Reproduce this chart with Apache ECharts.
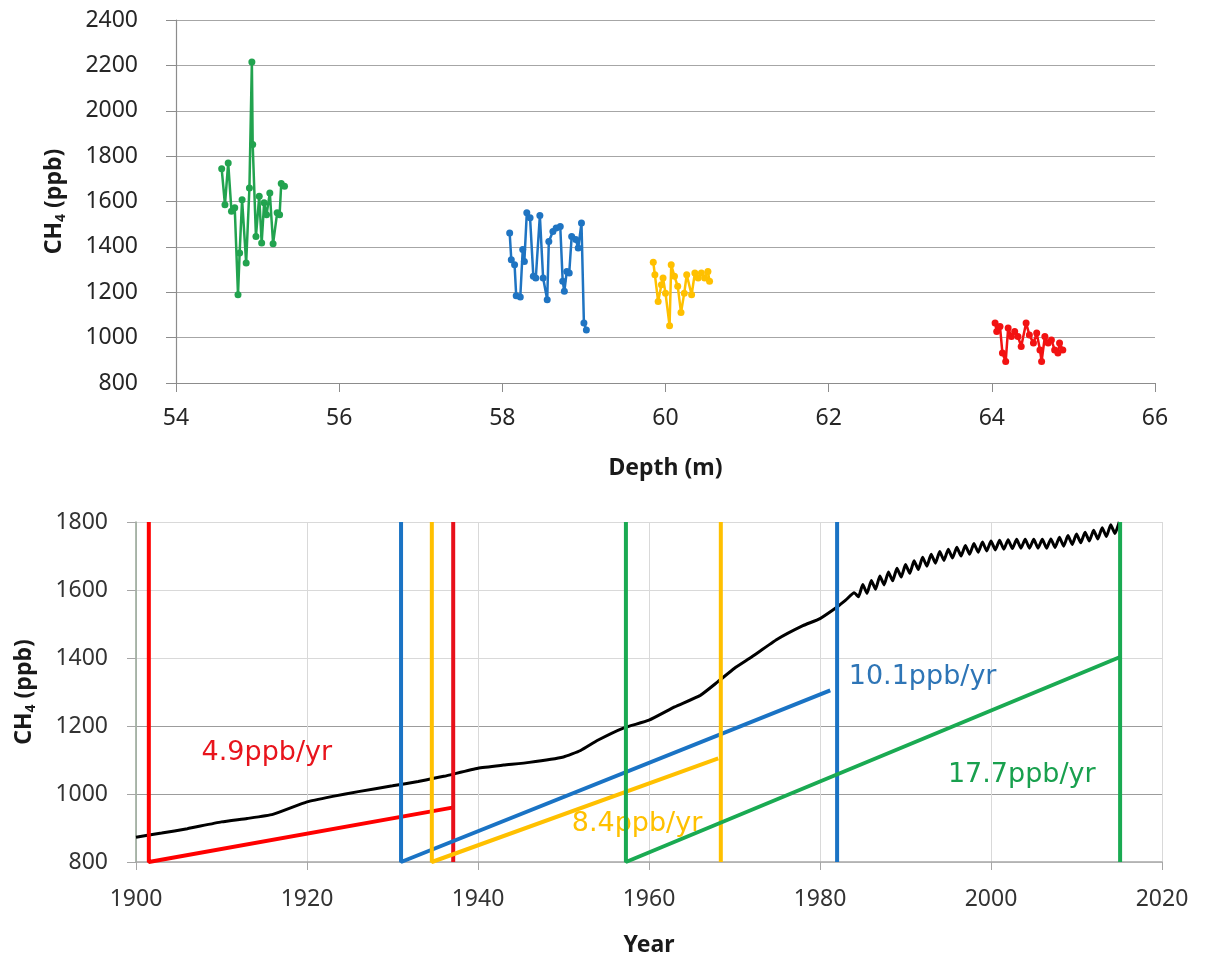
<!DOCTYPE html>
<html>
<head>
<meta charset="utf-8">
<title>CH4 depth and year</title>
<script src="https://cdn.jsdelivr.net/npm/echarts@6/dist/echarts.min.js"></script>
<style>
  html, body { margin: 0; padding: 0; background: #fff; }
  #main { width: 1209px; height: 961px; }
</style>
</head>
<body>
<div id="main"></div>
<script>
  // top panel: CH4 vs depth, four firn sections
  var depthGreen = [[54.56,1744],[54.60,1586],[54.64,1770],[54.68,1557],[54.72,1572],[54.76,1189],[54.78,1373],[54.81,1608],
    [54.86,1329],[54.90,1660],[54.93,2215],[54.94,1851],[54.98,1446],[55.02,1623],[55.05,1417],[55.08,1594],[55.11,1542],
    [55.15,1638],[55.19,1414],[55.24,1550],[55.27,1542],[55.29,1679],[55.33,1667]];
  var depthBlue = [[58.09,1461],[58.11,1343],[58.15,1321],[58.17,1185],[58.22,1179],[58.25,1388],[58.27,1336],[58.30,1550],
    [58.34,1528],[58.38,1270],[58.41,1263],[58.46,1538],[58.50,1263],[58.55,1167],[58.57,1424],[58.62,1468],[58.66,1483],
    [58.71,1490],[58.74,1248],[58.76,1204],[58.79,1292],[58.82,1285],[58.85,1446],[58.90,1432],[58.93,1395],[58.97,1505],
    [59.00,1064],[59.03,1034]];
  var depthYellow = [[59.85,1332],[59.87,1277],[59.91,1159],[59.95,1233],[59.97,1263],[60.00,1196],[60.05,1052],[60.07,1321],
    [60.11,1270],[60.15,1226],[60.19,1111],[60.23,1196],[60.26,1277],[60.32,1189],[60.36,1285],[60.40,1263],[60.44,1285],
    [60.48,1263],[60.52,1292],[60.54,1248]];
  var depthRed = [[64.04,1064],[64.06,1027],[64.10,1049],[64.13,932],[64.17,895],[64.20,1042],[64.24,1005],[64.28,1027],
    [64.32,1005],[64.36,961],[64.42,1064],[64.46,1012],[64.51,976],[64.55,1020],[64.59,946],[64.61,895],[64.65,1005],
    [64.69,976],[64.73,990],[64.77,946],[64.81,932],[64.83,976],[64.87,946]];

  // bottom panel: atmospheric record
  var atmosRecord = [[1900,873],[1903,885],[1906,898],[1910,918],[1913,928],[1916,940],[1920,977],[1923,993],[1926,1007],
    [1930,1024],[1933,1037],[1936,1052],[1940,1076],[1943,1085],[1946,1093],[1950,1109],[1952,1128],[1954,1158],
    [1957,1194],[1960,1217],[1963,1256],[1966,1290],[1968,1329],[1970,1370],[1972,1403],[1975,1455],[1978,1495],
    [1980,1516],[1982,1550],[1983,1570],
    [1984.0,1592],[1984.5,1580],[1985.0,1616],[1985.5,1590],[1986.0,1628],[1986.5,1602],[1987.0,1641],[1987.5,1615],
    [1988.0,1653],[1988.5,1627],[1989.0,1664],[1989.5,1638],[1990.0,1675],[1990.5,1649],[1991.0,1686],[1991.5,1660],
    [1992.0,1696],[1992.5,1670],[1993.0,1705],[1993.5,1679],[1994.0,1713],[1994.5,1687],[1995.0,1720],[1995.5,1694],
    [1996.0,1726],[1996.5,1700],[1997.0,1731],[1997.5,1705],[1998.0,1737],[1998.5,1711],[1999.0,1741],[1999.5,1715],
    [2000.0,1744],[2000.5,1718],[2001.0,1746],[2001.5,1720],[2002.0,1748],[2002.5,1722],[2003.0,1749],[2003.5,1723],
    [2004.0,1749],[2004.5,1723],[2005.0,1749],[2005.5,1723],[2006.0,1749],[2006.5,1723],[2007.0,1750],[2007.5,1725],
    [2008.0,1755],[2008.5,1729],[2009.0,1760],[2009.5,1734],[2010.0,1765],[2010.5,1739],[2011.0,1770],[2011.5,1744],
    [2012.0,1776],[2012.5,1750],[2013.0,1783],[2013.5,1757],[2014.0,1792],[2014.5,1766],[2015.0,1800]];

  // age ranges and growth-rate lines
  var redRate = [[1901.5,1800],[1901.5,800],[1937,960]];
  var redEdge = [[1937.1,800],[1937.1,1800]];
  var blueRate = [[1931,1800],[1931,800],[1981.2,1305]];
  var blueEdge = [[1982,800],[1982,1800]];
  var yellowRate = [[1934.6,1800],[1934.6,800],[1968.1,1105]];
  var yellowEdge = [[1968.4,800],[1968.4,1800]];
  var greenRate = [[1957.3,1800],[1957.3,800],[2015.1,1403]];
  var greenEdge = [[2015.1,800],[2015.1,1800]];

  var rateLabels = [
    { name: '4.9ppb/yr', value: [1915.3, 1121], color: '#e8141c' },
    { name: '10.1ppb/yr', value: [1992.0, 1344], color: '#2e75b6' },
    { name: '8.4ppb/yr', value: [1958.6, 912], color: '#ffc000' },
    { name: '17.7ppb/yr', value: [2003.6, 1056], color: '#19a04e' }
  ];

  var depthTicks = { min: 54, max: 66, interval: 2 };
  var ch4TopTicks = { min: 800, max: 2400, interval: 200 };
  var yearTicks = { min: 1900, max: 2020, interval: 20 };
  var ch4BottomTicks = { min: 800, max: 1800, interval: 200 };

  var tickFont = { fontFamily: 'Noto Sans', fontSize: 23, formatter: function (v) { return String(v); } };
  var nameFont = { fontFamily: 'Noto Sans', fontSize: 23, fontWeight: 'bold', color: '#1a1a1a' };
  var ch4Name = '{a|CH}{s|4}{a| (ppb)}';
  var ch4Rich = {
    a: { fontFamily: 'Noto Sans', fontSize: 23, fontWeight: 'bold', color: '#1a1a1a', lineHeight: 28 },
    s: { fontFamily: 'Noto Sans', fontSize: 14, fontWeight: 'bold', color: '#1a1a1a', lineHeight: 14, verticalAlign: 'bottom' }
  };

  function depthLine(data, color) {
    return {
      type: 'line', xAxisIndex: 0, yAxisIndex: 0, data: data,
      symbol: 'circle', symbolSize: 7,
      lineStyle: { color: color, width: 2.5 },
      itemStyle: { color: color }
    };
  }

  function rateLine(data, color, z) {
    return {
      type: 'line', xAxisIndex: 1, yAxisIndex: 1, data: data, showSymbol: false, z: z || 3,
      lineStyle: { color: color, width: 4 }
    };
  }

  var myChart = echarts.init(document.getElementById('main'));
  var option = {
    animation: false,
    grid: [
      { left: 176, top: 20, width: 979, height: 363 },
      { left: 136, top: 522, width: 1026, height: 340 }
    ],
    xAxis: [
      {
        type: 'value', gridIndex: 0, min: depthTicks.min, max: depthTicks.max, interval: depthTicks.interval,
        name: 'Depth (m)', nameLocation: 'middle', nameGap: 74, nameTextStyle: nameFont,
        axisLine: { lineStyle: { color: '#8c8c8c', width: 1.2 } },
        axisTick: { show: true, inside: false, length: 9, lineStyle: { color: '#8c8c8c' } },
        axisLabel: Object.assign({ color: '#262626', margin: 24 }, tickFont),
        splitLine: { show: false }
      },
      {
        type: 'value', gridIndex: 1, min: yearTicks.min, max: yearTicks.max, interval: yearTicks.interval,
        name: 'Year', nameLocation: 'middle', nameGap: 72, nameTextStyle: nameFont,
        axisLine: { lineStyle: { color: '#a6a6a6', width: 1.5 } },
        axisTick: { show: true, inside: false, length: 8, lineStyle: { color: '#a6a6a6' } },
        axisLabel: Object.assign({ color: '#333', margin: 26 }, tickFont),
        splitLine: { show: true, lineStyle: { color: '#d9d9d9', width: 1 } }
      }
    ],
    yAxis: [
      {
        type: 'value', gridIndex: 0, min: ch4TopTicks.min, max: ch4TopTicks.max, interval: ch4TopTicks.interval,
        name: ch4Name, nameLocation: 'middle', nameGap: 108, nameRotate: 90,
        nameTextStyle: { rich: ch4Rich },
        axisLine: { show: true, lineStyle: { color: '#8c8c8c', width: 1.2 } },
        axisTick: { show: true, inside: false, length: 10, lineStyle: { color: '#8c8c8c' } },
        axisLabel: Object.assign({ color: '#262626', margin: 38 }, tickFont),
        splitLine: { show: true, lineStyle: { color: '#a6a6a6', width: 1.2 } }
      },
      {
        type: 'value', gridIndex: 1, min: ch4BottomTicks.min, max: ch4BottomTicks.max, interval: ch4BottomTicks.interval,
        name: ch4Name, nameLocation: 'middle', nameGap: 98, nameRotate: 90,
        nameTextStyle: { rich: ch4Rich },
        axisLine: { show: true, lineStyle: { color: '#95a595', width: 1.5 } },
        axisTick: { show: true, inside: false, length: 9, lineStyle: { color: '#a6a6a6' } },
        axisLabel: Object.assign({ color: '#333', margin: 28 }, tickFont),
        splitLine: { show: true, lineStyle: { color: ['#d9d9d9', '#9c9c9c', '#9c9c9c', '#d9d9d9', '#d9d9d9', '#d9d9d9'], width: 1.2 } }
      }
    ],
    series: [
      depthLine(depthGreen, '#22a34f'),
      depthLine(depthBlue, '#1f74c2'),
      depthLine(depthYellow, '#ffc000'),
      depthLine(depthRed, '#f21212'),
      {
        type: 'line', xAxisIndex: 1, yAxisIndex: 1, data: atmosRecord, showSymbol: false, smooth: 0.15, z: 2,
        lineStyle: { color: '#000', width: 3 }
      },
      {
        type: 'scatter', xAxisIndex: 1, yAxisIndex: 1, symbolSize: 0.1, z: 2, silent: true,
        itemStyle: { color: '#fff', opacity: 1 },
        data: rateLabels.map(function (d) {
          return {
            name: d.name, value: d.value,
            label: { show: true, position: 'inside', formatter: '{b}', color: d.color, opacity: 1,
              fontFamily: 'DejaVu Sans', fontSize: 27 }
          };
        })
      },
      rateLine(redRate, '#ff0000'),
      rateLine(redEdge, '#e8101a'),
      rateLine(blueRate, '#1a73c4'),
      rateLine(blueEdge, '#1a73c4'),
      rateLine(yellowRate, '#ffc000'),
      rateLine(yellowEdge, '#ffc000'),
      rateLine(greenRate, '#1aaa52', 4),
      rateLine(greenEdge, '#1aaa52', 4)
    ]
  };
  myChart.setOption(option);
</script>
</body>
</html>
